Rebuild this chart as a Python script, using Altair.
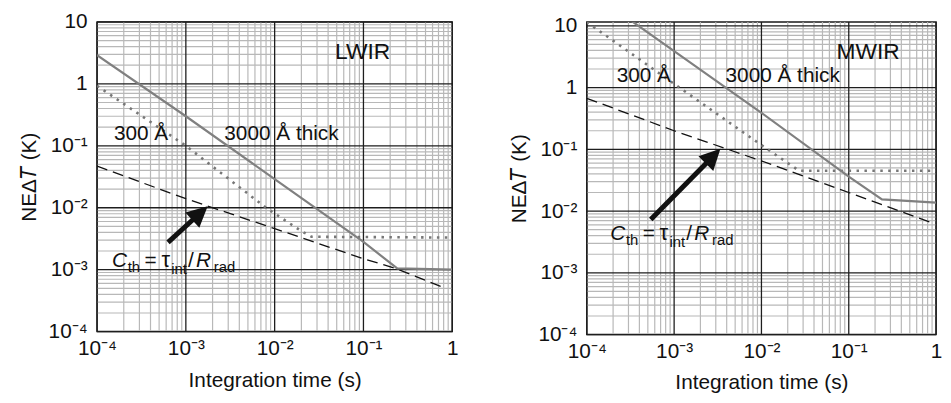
import math
import altair as alt
import pandas as pd

FONT = "Liberation Sans"

# ---------------- data ----------------
x_major = [1e-4, 1e-3, 1e-2, 1e-1, 1.0]
y_major = [1e-4, 1e-3, 1e-2, 1e-1, 1.0, 10.0]

# LWIR panel
lw_thick_t = [1e-4, 1e-3, 1e-2, 0.1, 0.24, 1.0]
lw_thick_v = [2.9, 0.30, 0.029, 0.0028, 0.00105, 0.001]
lw_thin_t = [1e-4, 1e-3, 8e-3, 0.02, 0.026, 1.0]
lw_thin_v = [0.93, 0.10, 0.010, 0.0042, 0.0034, 0.0033]
lw_cth_t = [1e-4, 1e-3, 1e-2, 0.1, 0.225, 0.84]
lw_cth_v = [0.047, 0.014, 0.0046, 0.0015, 0.00106, 0.0005]

# MWIR panel
mw_thick_t = [3e-4, 1e-3, 1e-2, 0.1, 0.24, 1.0]
mw_thick_v = [13.0, 3.9, 0.39, 0.036, 0.0155, 0.0137]
mw_thin_t = [1e-4, 1e-3, 1e-2, 0.027, 1.0]
mw_thin_v = [11.5, 1.15, 0.117, 0.045, 0.045]
mw_cth_t = [1e-4, 1e-3, 1e-2, 0.1, 0.86]
mw_cth_v = [0.67, 0.2, 0.065, 0.02, 0.0066]

# annotation anchors (data coordinates)
lw_notes = {
    "band": ("LWIR", 0.098, 2.48),
    "thin": ("300 Å", 1.55e-4, 0.126),
    "thick": ("3000 Å thick", 2.71e-3, 0.126),
    "formula": (1.47e-4, 1.11e-3),
    "arrow_tail": (6.3e-4, 2.76e-3),
    "arrow_tip": (1.76e-3, 0.0106),
}
mw_notes = {
    "band": ("MWIR", 0.167, 2.88),
    "thin": ("300 Å", 2.2e-4, 1.24),
    "thick": ("3000 Å thick", 3.88e-3, 1.24),
    "formula": (1.85e-4, 3.4e-3),
    "arrow_tail": (5.4e-4, 7.3e-3),
    "arrow_tip": (3.39e-3, 0.102),
}

# formula pieces: text, dx, dy, size, style
formula_pieces = [
    ("C", 0, 0, 21, "italic"),
    ("th", 16, 5, 15, "normal"),
    ("=", 33, 0, 21, "normal"),
    ("τ", 50, 0, 22, "normal"),
    ("int", 60, 7, 15, "normal"),
    ("/", 77, 0, 21, "normal"),
    ("R", 85, 0, 21, "italic"),
    ("rad", 103, 5, 15, "normal"),
]

LABEL_EXPR = (
    "datum.value >= 9 ? '10' : datum.value >= 0.9 ? '1' : "
    "datum.value >= 0.09 ? '10⁻¹' : datum.value >= 0.009 ? '10⁻²' : "
    "datum.value >= 0.0009 ? '10⁻³' : '10⁻⁴'"
)


def log_interp(a, b, f):
    return 10 ** (math.log10(a) + f * (math.log10(b) - math.log10(a)))


def panel(thick, thin, cth, notes, ytop, height, width=359):
    xs = alt.Scale(type="log", domain=[1e-4, 1.0], nice=False)
    ys = alt.Scale(type="log", domain=[1e-4, ytop], nice=False)

    x_axis = alt.Axis(values=x_major, labelExpr=LABEL_EXPR, grid=False, ticks=False,
                      domain=False, labelFontSize=21, labelFont=FONT, labelColor="#111",
                      labelPadding=6, labelFlush=False, labelOverlap=False,
                      title="Integration time (s)", titleFont=FONT, titleFontSize=21,
                      titleFontWeight="normal", titleColor="#111", titlePadding=11)
    y_axis = alt.Axis(values=y_major, labelExpr=LABEL_EXPR, grid=False, ticks=False,
                      domain=False, labelFontSize=21, labelFont=FONT, labelColor="#111",
                      labelPadding=10, labelFlush=False, labelOverlap=False,
                      title="NEΔ\U0001D447 (K)", titleFont=FONT, titleFontSize=21,
                      titleFontWeight="normal", titleColor="#111", titlePadding=9)

    X = lambda f="t": alt.X(f"{f}:Q", scale=xs, axis=x_axis)
    Y = lambda f="v": alt.Y(f"{f}:Q", scale=ys, axis=y_axis)

    minor_x = [k * 10.0 ** e for e in range(-4, 0) for k in range(2, 10)]
    minor_y = [k * 10.0 ** e for e in range(-4, 1) for k in range(2, 10) if k * 10.0 ** e < ytop]

    layers = [
        alt.Chart(pd.DataFrame({"t": minor_x})).mark_rule(color="#b8b8b8", strokeWidth=1.2).encode(x=X()),
        alt.Chart(pd.DataFrame({"v": minor_y})).mark_rule(color="#b8b8b8", strokeWidth=1.2).encode(y=Y()),
        alt.Chart(pd.DataFrame({"t": x_major})).mark_rule(color="#1e1e1e", strokeWidth=1.3).encode(x=X()),
        alt.Chart(pd.DataFrame({"v": y_major})).mark_rule(color="#1e1e1e", strokeWidth=1.3).encode(y=Y()),
    ]

    def line(ts, vs, **style):
        return alt.Chart(pd.DataFrame({"t": ts, "v": vs})).mark_line(clip=True, **style).encode(
            x=X(), y=Y(), order=alt.Order("t:Q"))

    layers.append(line(*cth, color="#111", strokeWidth=1.3, strokeDash=[11, 6]))
    layers.append(line(*thin, color="#777", strokeWidth=2.6, strokeDash=[2.5, 5.5]))
    layers.append(line(*thick, color="#808080", strokeWidth=2.2))

    def text(label, t, v, **style):
        return alt.Chart(pd.DataFrame({"t": [t], "v": [v], "s": [label]})).mark_text(
            font=FONT, color="#111", baseline="alphabetic", **style).encode(x=X(), y=Y(), text="s:N")

    lab, t, v = notes["band"]
    layers.append(text(lab, t, v, align="center", fontSize=23))
    lab, t, v = notes["thin"]
    layers.append(text(lab, t, v, align="left", fontSize=21))
    lab, t, v = notes["thick"]
    layers.append(text(lab, t, v, align="left", fontSize=21))
    ft, fv = notes["formula"]
    for s, dx, dy, size, style in formula_pieces:
        layers.append(text(s, ft, fv, align="left", fontSize=size, fontStyle=style, dx=dx, dy=dy))

    # arrow
    (t0, v0), (t1, v1) = notes["arrow_tail"], notes["arrow_tip"]
    px_x = width / 4.0
    px_y = height / math.log10(ytop / 1e-4)
    ddx = (math.log10(t1) - math.log10(t0)) * px_x
    ddy = (math.log10(v1) - math.log10(v0)) * px_y
    length = math.hypot(ddx, ddy)
    angle = math.degrees(math.atan2(ddx, ddy)) % 360
    f = (length - 14) / length
    shaft = pd.DataFrame({"t": [t0], "v": [v0], "t2": [log_interp(t0, t1, f)], "v2": [log_interp(v0, v1, f)]})
    layers.append(alt.Chart(shaft).mark_rule(color="#111", strokeWidth=5, strokeCap="butt").encode(
        x=X(), y=Y(), x2="t2:Q", y2="v2:Q"))
    layers.append(alt.Chart(pd.DataFrame({"t": [t1], "v": [v1]})).mark_point(
        shape="M0,0L-1,2L1,2Z", filled=True, size=441, angle=angle, color="#111", opacity=1,
        strokeWidth=0).encode(x=X(), y=Y()))

    return alt.layer(*layers).properties(width=width, height=height)


left = panel((lw_thick_t, lw_thick_v), (lw_thin_t, lw_thin_v), (lw_cth_t, lw_cth_v),
             lw_notes, 10.0, 313)
right = panel((mw_thick_t, mw_thick_v), (mw_thin_t, mw_thin_v), (mw_cth_t, mw_cth_v),
              mw_notes, 10 ** (1 + 4 / 63.2), 316, width=353)

chart = alt.hconcat(left, right, spacing=136, bounds="flush").properties(
    padding={"left": 9, "top": 0, "right": 0, "bottom": 0}
).configure_view(stroke="#1a1a1a", strokeWidth=1.5)

chart.save("out.html", embed_options={"renderer": "svg", "actions": False})
